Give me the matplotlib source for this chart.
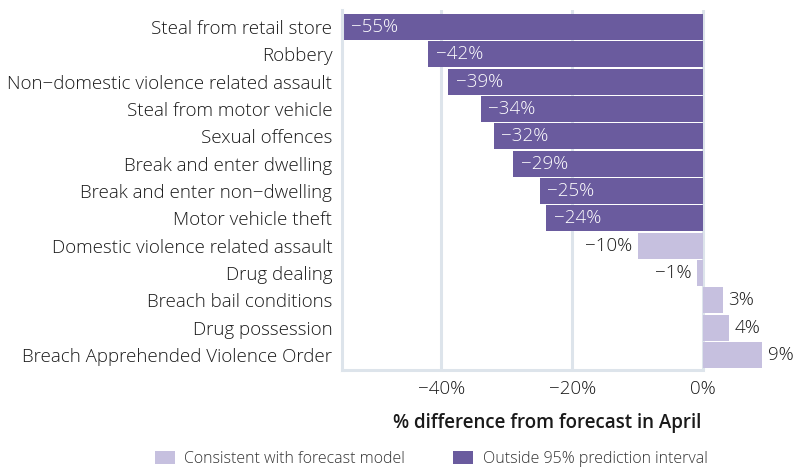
import matplotlib
matplotlib.use("Agg")
import matplotlib.pyplot as plt
from matplotlib.patches import Patch

categories = [
    "Steal from retail store", "Robbery", "Non\u2212domestic violence related assault",
    "Steal from motor vehicle", "Sexual offences", "Break and enter dwelling",
    "Break and enter non\u2212dwelling", "Motor vehicle theft",
    "Domestic violence related assault", "Drug dealing", "Breach bail conditions",
    "Drug possession", "Breach Apprehended Violence Order",
]
values = [-55, -42, -39, -34, -32, -29, -25, -24, -10, -0.9, 3, 4, 9]
labels = ["\u221255%", "\u221242%", "\u221239%", "\u221234%", "\u221232%", "\u221229%",
          "\u221225%", "\u221224%", "\u221210%", "\u22121%", "3%", "4%", "9%"]
outside = [True] * 8 + [False] * 5
xticks = [-40, -20, 0]
xticklabels = ["\u221240%", "\u221220%", "0%"]
legend_labels = ["Consistent with forecast model", "Outside 95% prediction interval"]

DARK = "#6a5b9e"
LIGHT = "#c6c0df"
GRID = "#dde4eb"
TEXT = "#1a1a1a"

plt.rcParams["font.family"] = ["Open Sans", "DejaVu Sans"]
W = "light"
FS = 13.5

fig = plt.figure(figsize=(7.95, 4.68), dpi=100)
ax = fig.add_axes([342 / 795, 1 - 370 / 468, (794 - 342) / 795, 360 / 468])

xmin, xmax = -55.2, 13.9
ax.set_xlim(xmin, xmax)
ax.set_ylim(len(categories) - 0.45, -0.62)

for x in [-40, -20, 0]:
    ax.axvline(x, color=GRID, lw=2.2, zorder=0)

ypos = list(range(len(categories)))
colors = [DARK if o else LIGHT for o in outside]
ax.barh(ypos, values, height=0.95, color=colors, zorder=2)

for y, v, lab, o in zip(ypos, values, labels, outside):
    if o:
        ax.annotate(lab, (v, y), xytext=(5.5, 0), textcoords="offset points",
                    ha="left", va="center", color="white", fontsize=FS, fontweight=W, zorder=3)
    elif v < 0:
        ax.annotate(lab, (v, y), xytext=(-4, 0), textcoords="offset points",
                    ha="right", va="center", color=TEXT, fontsize=FS, fontweight=W, zorder=3)
    else:
        ax.annotate(lab, (v, y), xytext=(4, 0), textcoords="offset points",
                    ha="left", va="center", color=TEXT, fontsize=FS, fontweight=W, zorder=3)

ax.set_yticks(ypos)
ax.set_yticklabels(categories, fontsize=FS, color=TEXT, fontweight=W)
ax.set_xticks(xticks)
ax.set_xticklabels(xticklabels, fontsize=FS, color=TEXT, fontweight=W)
ax.tick_params(axis="both", length=0)
ax.tick_params(axis="x", pad=7)
ax.tick_params(axis="y", pad=7)

for s in ["top", "right"]:
    ax.spines[s].set_visible(False)
ax.spines["left"].set_color(GRID)
ax.spines["left"].set_linewidth(2.2)
ax.spines["bottom"].set_color(GRID)
ax.spines["bottom"].set_linewidth(2.2)
ax.spines["bottom"].set_bounds(xmin, 0)

ax.set_xlabel("% difference from forecast in April", fontsize=FS, fontweight="semibold",
              color=TEXT)
ax.xaxis.set_label_coords((-23.8 - xmin) / (xmax - xmin), -0.12)

handles = [Patch(facecolor=LIGHT, edgecolor="none"), Patch(facecolor=DARK, edgecolor="none")]
fig.legend(handles, legend_labels, loc="center", bbox_to_anchor=(431 / 795, 1 - 459 / 468),
           ncol=2, frameon=False, prop={"size": 11.5, "weight": W}, handlelength=1.25,
           handleheight=0.85, handletextpad=0.6, columnspacing=3.0, labelcolor="#333333")

fig.savefig("out.png", dpi=100)
